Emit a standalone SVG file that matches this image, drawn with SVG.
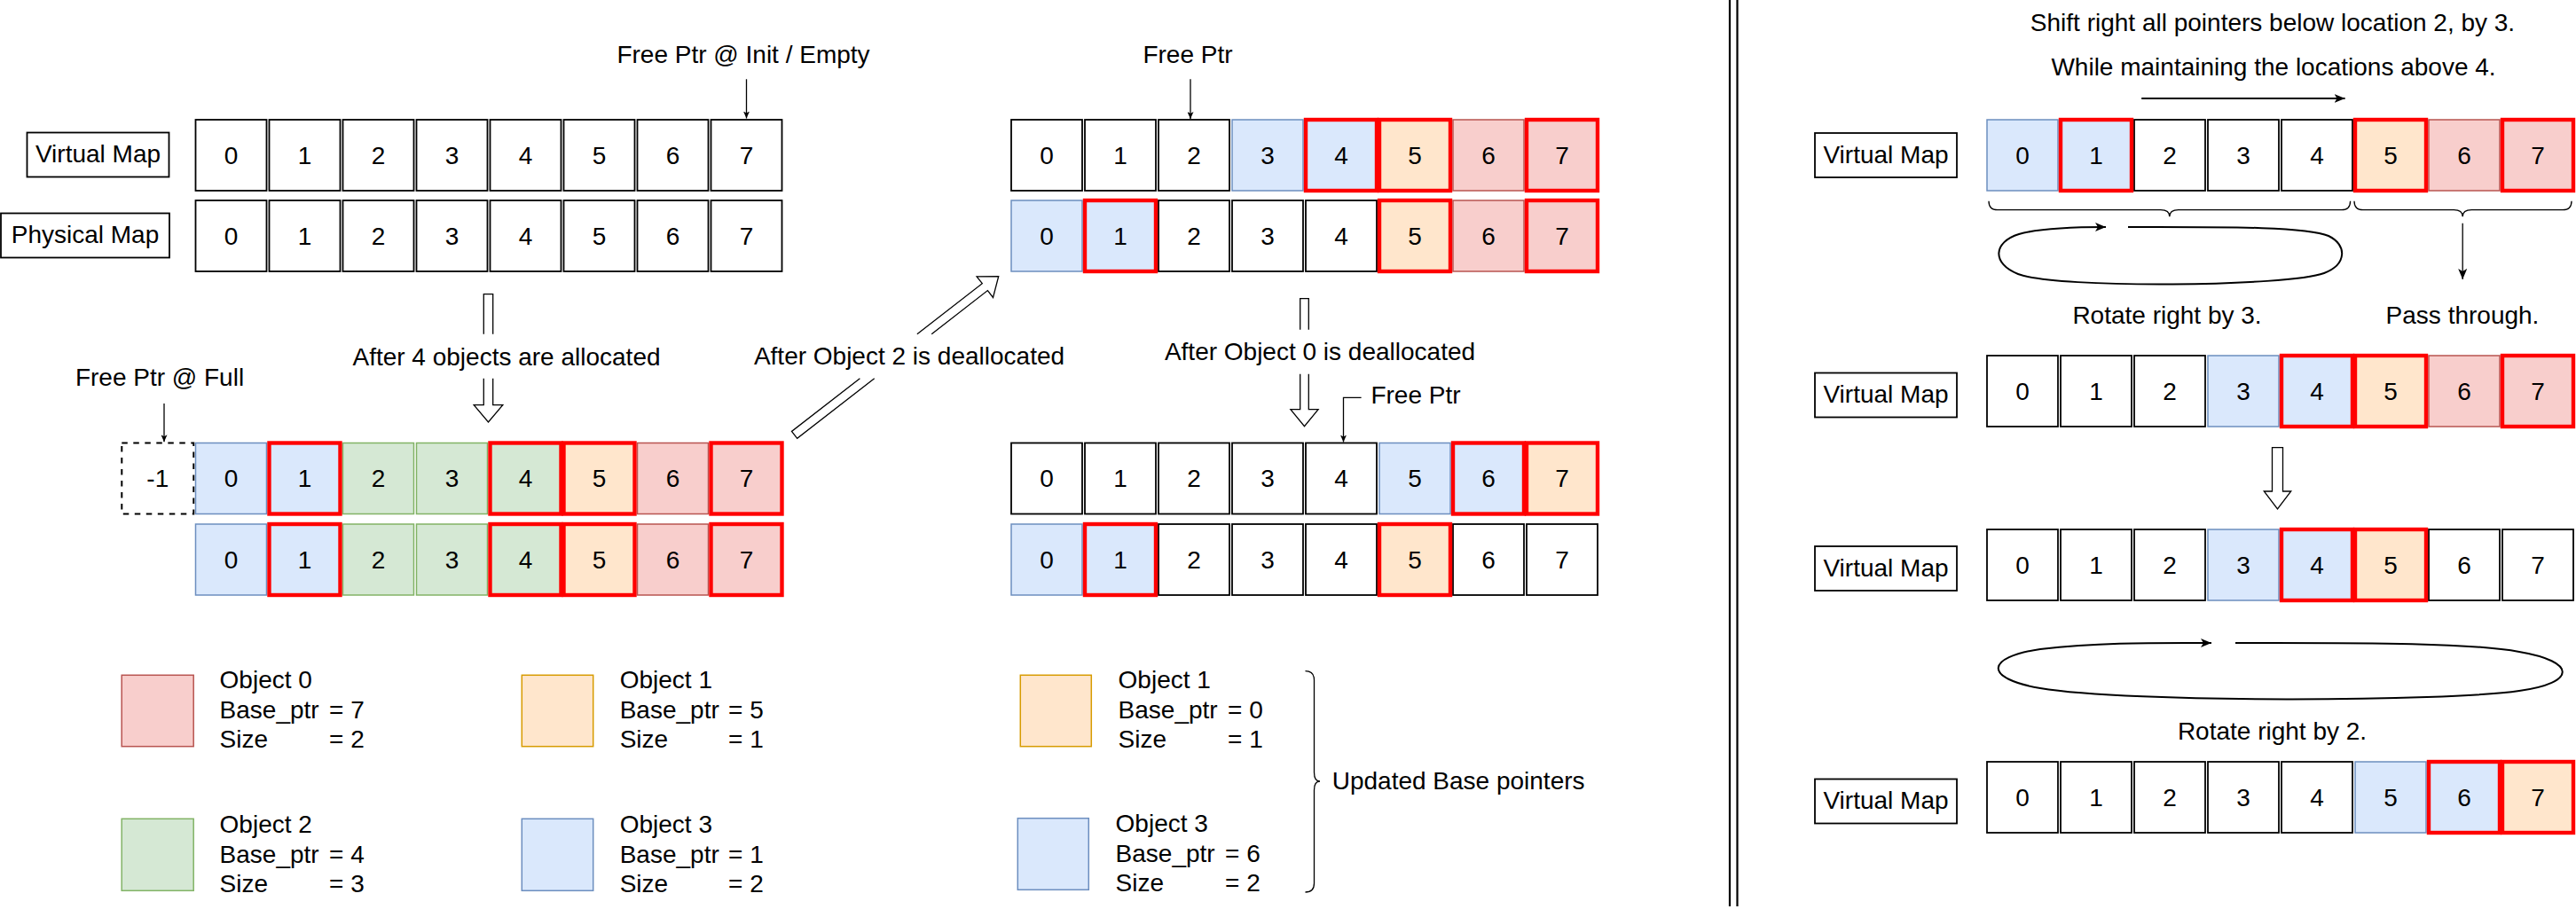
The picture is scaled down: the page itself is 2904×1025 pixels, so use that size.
<svg xmlns="http://www.w3.org/2000/svg" width="2904" height="1025" viewBox="0 0 2904 1025">
<style>
text { font-family: "Liberation Sans", Arial, sans-serif; font-size: 28px; fill: #000; }
.m { text-anchor: middle; }
.w { fill: #fff; stroke: #000; stroke-width: 1.8; }
.b { fill: #dae8fc; stroke: #6c8ebf; stroke-width: 1.5; }
.g { fill: #d5e8d4; stroke: #82b366; stroke-width: 1.5; }
.o { fill: #ffe6cc; stroke: #d79b00; stroke-width: 1.5; }
.r { fill: #f8cecc; stroke: #b85450; stroke-width: 1.5; }
.h { stroke: #ff0000; stroke-width: 4.4; }
.lbl { fill: #fff; stroke: #000; stroke-width: 1.8; }
.dash { fill: #fff; stroke: #000; stroke-width: 2; stroke-dasharray: 6.5 6.5; }
.hol { fill: #fff; stroke: #000; stroke-width: 1.3; stroke-linejoin: miter; }
.ln { fill: none; stroke: #000; stroke-width: 1.3; }
.ln2 { fill: none; stroke: #000; stroke-width: 2; }
.sep { stroke: #000; stroke-width: 2.2; }
</style>
<defs>
<marker id="as" viewBox="0 0 8 7" refX="8" refY="3.5" markerWidth="8" markerHeight="7" markerUnits="userSpaceOnUse" orient="auto"><path d="M0,0 L8,3.5 L0,7 L2,3.5 z" fill="#000"/></marker>
<marker id="al" viewBox="0 0 12 10" refX="12" refY="5" markerWidth="12" markerHeight="10" markerUnits="userSpaceOnUse" orient="auto"><path d="M0,0 L12,5 L0,10 L3,5 z" fill="#000"/></marker>
</defs>

<!-- separator double line -->
<line class="sep" x1="1950" y1="0" x2="1950" y2="1022"/>
<line class="sep" x1="1958.5" y1="0" x2="1958.5" y2="1022"/>

<!-- labels -->
<g id="lbl-vm-top"><rect class="lbl" x="30.5" y="149.5" width="160" height="50"/><text class="m" x="110.5" y="183">Virtual Map</text></g>
<g id="lbl-pm-top"><rect class="lbl" x="1" y="240.5" width="190" height="50"/><text class="m" x="96" y="274">Physical Map</text></g>
<g id="lbl-vm-r0"><rect class="lbl" x="2046" y="150" width="160" height="50"/><text class="m" x="2126" y="183.5">Virtual Map</text></g>
<g id="lbl-vm-r1"><rect class="lbl" x="2046" y="420.5" width="160" height="50"/><text class="m" x="2126" y="454">Virtual Map</text></g>
<g id="lbl-vm-r2"><rect class="lbl" x="2046" y="616" width="160" height="50"/><text class="m" x="2126" y="649.5">Virtual Map</text></g>
<g id="lbl-vm-r3"><rect class="lbl" x="2046" y="878.5" width="160" height="50"/><text class="m" x="2126" y="912">Virtual Map</text></g>

<!-- free pointer / step texts -->
<g id="txt-free-init"><text class="m" x="838" y="71">Free Ptr @ Init / Empty</text></g>
<g id="txt-free-mid-top"><text class="m" x="1339" y="71">Free Ptr</text></g>
<g id="txt-free-full"><text class="m" x="180" y="435">Free Ptr @ Full</text></g>
<g id="txt-free-mid"><text class="m" x="1596" y="455">Free Ptr</text></g>
<g id="txt-alloc"><text class="m" x="571" y="411.5">After 4 objects are allocated</text></g>
<g id="txt-dealloc2"><text class="m" x="1025" y="410.7">After Object 2 is deallocated</text></g>
<g id="txt-dealloc0"><text class="m" x="1488" y="406">After Object 0 is deallocated</text></g>
<g id="txt-shift"><text class="m" x="2562" y="35">Shift right all pointers below location 2, by 3.</text></g>
<g id="txt-maintain"><text class="m" x="2563" y="85">While maintaining the locations above 4.</text></g>
<g id="txt-rot3"><text class="m" x="2443" y="365">Rotate right by 3.</text></g>
<g id="txt-pass"><text class="m" x="2776" y="365">Pass through.</text></g>
<g id="txt-rot2"><text class="m" x="2561.5" y="834">Rotate right by 2.</text></g>

<!-- dashed -1 cell -->
<g id="cell-neg1"><rect class="dash" x="137.3" y="499.5" width="81" height="80"/><text class="m" x="177.8" y="549">-1</text></g>

<!-- V0 row (left top virtual) -->
<g id="v0-0"><rect class="w" x="220.5" y="135" width="80" height="80"/><text class="m" x="260.5" y="184.5">0</text></g>
<g id="v0-1"><rect class="w" x="303.5" y="135" width="80" height="80"/><text class="m" x="343.5" y="184.5">1</text></g>
<g id="v0-2"><rect class="w" x="386.5" y="135" width="80" height="80"/><text class="m" x="426.5" y="184.5">2</text></g>
<g id="v0-3"><rect class="w" x="469.5" y="135" width="80" height="80"/><text class="m" x="509.5" y="184.5">3</text></g>
<g id="v0-4"><rect class="w" x="552.5" y="135" width="80" height="80"/><text class="m" x="592.5" y="184.5">4</text></g>
<g id="v0-5"><rect class="w" x="635.5" y="135" width="80" height="80"/><text class="m" x="675.5" y="184.5">5</text></g>
<g id="v0-6"><rect class="w" x="718.5" y="135" width="80" height="80"/><text class="m" x="758.5" y="184.5">6</text></g>
<g id="v0-7"><rect class="w" x="801.5" y="135" width="80" height="80"/><text class="m" x="841.5" y="184.5">7</text></g>
<!-- P0 row -->
<g id="p0-0"><rect class="w" x="220.5" y="226" width="80" height="80"/><text class="m" x="260.5" y="275.5">0</text></g>
<g id="p0-1"><rect class="w" x="303.5" y="226" width="80" height="80"/><text class="m" x="343.5" y="275.5">1</text></g>
<g id="p0-2"><rect class="w" x="386.5" y="226" width="80" height="80"/><text class="m" x="426.5" y="275.5">2</text></g>
<g id="p0-3"><rect class="w" x="469.5" y="226" width="80" height="80"/><text class="m" x="509.5" y="275.5">3</text></g>
<g id="p0-4"><rect class="w" x="552.5" y="226" width="80" height="80"/><text class="m" x="592.5" y="275.5">4</text></g>
<g id="p0-5"><rect class="w" x="635.5" y="226" width="80" height="80"/><text class="m" x="675.5" y="275.5">5</text></g>
<g id="p0-6"><rect class="w" x="718.5" y="226" width="80" height="80"/><text class="m" x="758.5" y="275.5">6</text></g>
<g id="p0-7"><rect class="w" x="801.5" y="226" width="80" height="80"/><text class="m" x="841.5" y="275.5">7</text></g>
<!-- V1 row -->
<g id="v1-0"><rect class="b" x="220.5" y="499.5" width="80" height="80"/><text class="m" x="260.5" y="549">0</text></g>
<g id="v1-2"><rect class="g" x="386.5" y="499.5" width="80" height="80"/><text class="m" x="426.5" y="549">2</text></g>
<g id="v1-3"><rect class="g" x="469.5" y="499.5" width="80" height="80"/><text class="m" x="509.5" y="549">3</text></g>
<g id="v1-6"><rect class="r" x="718.5" y="499.5" width="80" height="80"/><text class="m" x="758.5" y="549">6</text></g>
<g id="v1-1"><rect class="b h" x="303.5" y="499.5" width="80" height="80"/><text class="m" x="343.5" y="549">1</text></g>
<g id="v1-4"><rect class="g h" x="552.5" y="499.5" width="80" height="80"/><text class="m" x="592.5" y="549">4</text></g>
<g id="v1-5"><rect class="o h" x="635.5" y="499.5" width="80" height="80"/><text class="m" x="675.5" y="549">5</text></g>
<g id="v1-7"><rect class="r h" x="801.5" y="499.5" width="80" height="80"/><text class="m" x="841.5" y="549">7</text></g>
<!-- P1 row -->
<g id="p1-0"><rect class="b" x="220.5" y="591" width="80" height="80"/><text class="m" x="260.5" y="640.5">0</text></g>
<g id="p1-2"><rect class="g" x="386.5" y="591" width="80" height="80"/><text class="m" x="426.5" y="640.5">2</text></g>
<g id="p1-3"><rect class="g" x="469.5" y="591" width="80" height="80"/><text class="m" x="509.5" y="640.5">3</text></g>
<g id="p1-6"><rect class="r" x="718.5" y="591" width="80" height="80"/><text class="m" x="758.5" y="640.5">6</text></g>
<g id="p1-1"><rect class="b h" x="303.5" y="591" width="80" height="80"/><text class="m" x="343.5" y="640.5">1</text></g>
<g id="p1-4"><rect class="g h" x="552.5" y="591" width="80" height="80"/><text class="m" x="592.5" y="640.5">4</text></g>
<g id="p1-5"><rect class="o h" x="635.5" y="591" width="80" height="80"/><text class="m" x="675.5" y="640.5">5</text></g>
<g id="p1-7"><rect class="r h" x="801.5" y="591" width="80" height="80"/><text class="m" x="841.5" y="640.5">7</text></g>
<!-- V2 row (middle top virtual) -->
<g id="v2-0"><rect class="w" x="1140" y="135" width="80" height="80"/><text class="m" x="1180" y="184.5">0</text></g>
<g id="v2-1"><rect class="w" x="1223" y="135" width="80" height="80"/><text class="m" x="1263" y="184.5">1</text></g>
<g id="v2-2"><rect class="w" x="1306" y="135" width="80" height="80"/><text class="m" x="1346" y="184.5">2</text></g>
<g id="v2-3"><rect class="b" x="1389" y="135" width="80" height="80"/><text class="m" x="1429" y="184.5">3</text></g>
<g id="v2-6"><rect class="r" x="1638" y="135" width="80" height="80"/><text class="m" x="1678" y="184.5">6</text></g>
<g id="v2-4"><rect class="b h" x="1472" y="135" width="80" height="80"/><text class="m" x="1512" y="184.5">4</text></g>
<g id="v2-5"><rect class="o h" x="1555" y="135" width="80" height="80"/><text class="m" x="1595" y="184.5">5</text></g>
<g id="v2-7"><rect class="r h" x="1721" y="135" width="80" height="80"/><text class="m" x="1761" y="184.5">7</text></g>
<!-- P2 row -->
<g id="p2-0"><rect class="b" x="1140" y="226" width="80" height="80"/><text class="m" x="1180" y="275.5">0</text></g>
<g id="p2-2"><rect class="w" x="1306" y="226" width="80" height="80"/><text class="m" x="1346" y="275.5">2</text></g>
<g id="p2-3"><rect class="w" x="1389" y="226" width="80" height="80"/><text class="m" x="1429" y="275.5">3</text></g>
<g id="p2-4"><rect class="w" x="1472" y="226" width="80" height="80"/><text class="m" x="1512" y="275.5">4</text></g>
<g id="p2-6"><rect class="r" x="1638" y="226" width="80" height="80"/><text class="m" x="1678" y="275.5">6</text></g>
<g id="p2-1"><rect class="b h" x="1223" y="226" width="80" height="80"/><text class="m" x="1263" y="275.5">1</text></g>
<g id="p2-5"><rect class="o h" x="1555" y="226" width="80" height="80"/><text class="m" x="1595" y="275.5">5</text></g>
<g id="p2-7"><rect class="r h" x="1721" y="226" width="80" height="80"/><text class="m" x="1761" y="275.5">7</text></g>
<!-- V3 row -->
<g id="v3-0"><rect class="w" x="1140" y="499.5" width="80" height="80"/><text class="m" x="1180" y="549">0</text></g>
<g id="v3-1"><rect class="w" x="1223" y="499.5" width="80" height="80"/><text class="m" x="1263" y="549">1</text></g>
<g id="v3-2"><rect class="w" x="1306" y="499.5" width="80" height="80"/><text class="m" x="1346" y="549">2</text></g>
<g id="v3-3"><rect class="w" x="1389" y="499.5" width="80" height="80"/><text class="m" x="1429" y="549">3</text></g>
<g id="v3-4"><rect class="w" x="1472" y="499.5" width="80" height="80"/><text class="m" x="1512" y="549">4</text></g>
<g id="v3-5"><rect class="b" x="1555" y="499.5" width="80" height="80"/><text class="m" x="1595" y="549">5</text></g>
<g id="v3-6"><rect class="b h" x="1638" y="499.5" width="80" height="80"/><text class="m" x="1678" y="549">6</text></g>
<g id="v3-7"><rect class="o h" x="1721" y="499.5" width="80" height="80"/><text class="m" x="1761" y="549">7</text></g>
<!-- P3 row -->
<g id="p3-0"><rect class="b" x="1140" y="591" width="80" height="80"/><text class="m" x="1180" y="640.5">0</text></g>
<g id="p3-2"><rect class="w" x="1306" y="591" width="80" height="80"/><text class="m" x="1346" y="640.5">2</text></g>
<g id="p3-3"><rect class="w" x="1389" y="591" width="80" height="80"/><text class="m" x="1429" y="640.5">3</text></g>
<g id="p3-4"><rect class="w" x="1472" y="591" width="80" height="80"/><text class="m" x="1512" y="640.5">4</text></g>
<g id="p3-6"><rect class="w" x="1638" y="591" width="80" height="80"/><text class="m" x="1678" y="640.5">6</text></g>
<g id="p3-7"><rect class="w" x="1721" y="591" width="80" height="80"/><text class="m" x="1761" y="640.5">7</text></g>
<g id="p3-1"><rect class="b h" x="1223" y="591" width="80" height="80"/><text class="m" x="1263" y="640.5">1</text></g>
<g id="p3-5"><rect class="o h" x="1555" y="591" width="80" height="80"/><text class="m" x="1595" y="640.5">5</text></g>
<!-- R0 row -->
<g id="r0-0"><rect class="b" x="2240" y="135" width="80" height="80"/><text class="m" x="2280" y="184.5">0</text></g>
<g id="r0-2"><rect class="w" x="2406" y="135" width="80" height="80"/><text class="m" x="2446" y="184.5">2</text></g>
<g id="r0-3"><rect class="w" x="2489" y="135" width="80" height="80"/><text class="m" x="2529" y="184.5">3</text></g>
<g id="r0-4"><rect class="w" x="2572" y="135" width="80" height="80"/><text class="m" x="2612" y="184.5">4</text></g>
<g id="r0-6"><rect class="r" x="2738" y="135" width="80" height="80"/><text class="m" x="2778" y="184.5">6</text></g>
<g id="r0-1"><rect class="b h" x="2323" y="135" width="80" height="80"/><text class="m" x="2363" y="184.5">1</text></g>
<g id="r0-5"><rect class="o h" x="2655" y="135" width="80" height="80"/><text class="m" x="2695" y="184.5">5</text></g>
<g id="r0-7"><rect class="r h" x="2821" y="135" width="80" height="80"/><text class="m" x="2861" y="184.5">7</text></g>
<!-- R1 row -->
<g id="r1-0"><rect class="w" x="2240" y="401" width="80" height="80"/><text class="m" x="2280" y="450.5">0</text></g>
<g id="r1-1"><rect class="w" x="2323" y="401" width="80" height="80"/><text class="m" x="2363" y="450.5">1</text></g>
<g id="r1-2"><rect class="w" x="2406" y="401" width="80" height="80"/><text class="m" x="2446" y="450.5">2</text></g>
<g id="r1-3"><rect class="b" x="2489" y="401" width="80" height="80"/><text class="m" x="2529" y="450.5">3</text></g>
<g id="r1-6"><rect class="r" x="2738" y="401" width="80" height="80"/><text class="m" x="2778" y="450.5">6</text></g>
<g id="r1-4"><rect class="b h" x="2572" y="401" width="80" height="80"/><text class="m" x="2612" y="450.5">4</text></g>
<g id="r1-5"><rect class="o h" x="2655" y="401" width="80" height="80"/><text class="m" x="2695" y="450.5">5</text></g>
<g id="r1-7"><rect class="r h" x="2821" y="401" width="80" height="80"/><text class="m" x="2861" y="450.5">7</text></g>
<!-- R2 row -->
<g id="r2-0"><rect class="w" x="2240" y="597" width="80" height="80"/><text class="m" x="2280" y="646.5">0</text></g>
<g id="r2-1"><rect class="w" x="2323" y="597" width="80" height="80"/><text class="m" x="2363" y="646.5">1</text></g>
<g id="r2-2"><rect class="w" x="2406" y="597" width="80" height="80"/><text class="m" x="2446" y="646.5">2</text></g>
<g id="r2-3"><rect class="b" x="2489" y="597" width="80" height="80"/><text class="m" x="2529" y="646.5">3</text></g>
<g id="r2-6"><rect class="w" x="2738" y="597" width="80" height="80"/><text class="m" x="2778" y="646.5">6</text></g>
<g id="r2-7"><rect class="w" x="2821" y="597" width="80" height="80"/><text class="m" x="2861" y="646.5">7</text></g>
<g id="r2-4"><rect class="b h" x="2572" y="597" width="80" height="80"/><text class="m" x="2612" y="646.5">4</text></g>
<g id="r2-5"><rect class="o h" x="2655" y="597" width="80" height="80"/><text class="m" x="2695" y="646.5">5</text></g>
<!-- R3 row -->
<g id="r3-0"><rect class="w" x="2240" y="859" width="80" height="80"/><text class="m" x="2280" y="908.5">0</text></g>
<g id="r3-1"><rect class="w" x="2323" y="859" width="80" height="80"/><text class="m" x="2363" y="908.5">1</text></g>
<g id="r3-2"><rect class="w" x="2406" y="859" width="80" height="80"/><text class="m" x="2446" y="908.5">2</text></g>
<g id="r3-3"><rect class="w" x="2489" y="859" width="80" height="80"/><text class="m" x="2529" y="908.5">3</text></g>
<g id="r3-4"><rect class="w" x="2572" y="859" width="80" height="80"/><text class="m" x="2612" y="908.5">4</text></g>
<g id="r3-5"><rect class="b" x="2655" y="859" width="80" height="80"/><text class="m" x="2695" y="908.5">5</text></g>
<g id="r3-6"><rect class="b h" x="2738" y="859" width="80" height="80"/><text class="m" x="2778" y="908.5">6</text></g>
<g id="r3-7"><rect class="o h" x="2821" y="859" width="80" height="80"/><text class="m" x="2861" y="908.5">7</text></g>

<!-- legend -->
<g id="leg-obj0"><rect class="r" x="137.2" y="761.3" width="81" height="80.4"/>
<text x="247.6" y="776">Object 0</text>
<text><tspan x="247.6" y="810">Base_ptr</tspan><tspan x="371" y="810">= 7</tspan></text>
<text><tspan x="247.6" y="843.3">Size</tspan><tspan x="371" y="843.3">= 2</tspan></text></g>
<g id="leg-obj1"><rect class="o" x="588.3" y="761.3" width="80.4" height="80.4"/>
<text x="698.7" y="776">Object 1</text>
<text><tspan x="698.7" y="810">Base_ptr</tspan><tspan x="821" y="810">= 5</tspan></text>
<text><tspan x="698.7" y="843.3">Size</tspan><tspan x="821" y="843.3">= 1</tspan></text></g>
<g id="leg-obj2"><rect class="g" x="137.2" y="923.3" width="81" height="81"/>
<text x="247.6" y="939.3">Object 2</text>
<text><tspan x="247.6" y="973.3">Base_ptr</tspan><tspan x="371" y="973.3">= 4</tspan></text>
<text><tspan x="247.6" y="1006">Size</tspan><tspan x="371" y="1006">= 3</tspan></text></g>
<g id="leg-obj3"><rect class="b" x="588.3" y="923.3" width="80.4" height="81"/>
<text x="698.7" y="939.3">Object 3</text>
<text><tspan x="698.7" y="973.3">Base_ptr</tspan><tspan x="821" y="973.3">= 1</tspan></text>
<text><tspan x="698.7" y="1006">Size</tspan><tspan x="821" y="1006">= 2</tspan></text></g>
<g id="leg-upd-obj1"><rect class="o" x="1150.3" y="761.3" width="80" height="80.4"/>
<text x="1260.6" y="776">Object 1</text>
<text><tspan x="1260.6" y="810">Base_ptr</tspan><tspan x="1384" y="810">= 0</tspan></text>
<text><tspan x="1260.6" y="843.3">Size</tspan><tspan x="1384" y="843.3">= 1</tspan></text></g>
<g id="leg-upd-obj3"><rect class="b" x="1147.3" y="922.7" width="80" height="80.6"/>
<text x="1257.6" y="938.3">Object 3</text>
<text><tspan x="1257.6" y="971.7">Base_ptr</tspan><tspan x="1381" y="971.7">= 6</tspan></text>
<text><tspan x="1257.6" y="1005">Size</tspan><tspan x="1381" y="1005">= 2</tspan></text></g>
<g id="txt-updated"><text x="1501.7" y="890">Updated Base pointers</text></g>

<!-- connectors -->
<g id="connectors">
<path class="ln" d="M841.5,89.3 L841.5,133.5" marker-end="url(#as)"/>
<path class="ln" d="M1342,89.3 L1342,134" marker-end="url(#as)"/>
<path class="ln" d="M185,455 L185,498.3" marker-end="url(#as)"/>
<path class="ln" d="M1534.6,448.3 L1514.5,448.3 L1514.5,498.5" marker-end="url(#as)"/>

<!-- hollow arrow: after 4 objects allocated -->
<polyline class="hol" points="545.3,376.7 545.3,331.7 555.7,331.7 555.7,376.7"/>
<polyline class="hol" points="545.3,426.7 545.3,456.7 534.2,456.7 550.5,476 566.8,456.7 555.7,456.7 555.7,426.7"/>
<!-- hollow arrow: after object 2 deallocated (diagonal) -->
<polyline class="hol" points="969.4,426.7 892.5,486.4 898.7,494.3 985.7,426.7"/>
<polyline class="hol" points="1033.9,376.7 1107.3,319.7 1101.1,311.8 1125.7,311.7 1119.5,335.5 1113.4,327.6 1050.2,376.7"/>
<!-- hollow arrow: after object 0 deallocated -->
<polyline class="hol" points="1465.7,371.7 1465.7,336.7 1475.3,336.7 1475.3,371.7"/>
<polyline class="hol" points="1465.7,421.7 1465.7,461.7 1454.9,461.7 1470.5,480.7 1486.1,461.7 1475.3,461.7 1475.3,421.7"/>
<!-- hollow arrow: right section -->
<polygon class="hol" points="2561.5,504.7 2573.5,504.7 2573.5,554 2582.7,554 2567.5,574 2552.3,554 2561.5,554"/>

<!-- shift arrow -->
<path class="ln2" d="M2414.2,111 L2643.6,111" marker-end="url(#al)"/>
<!-- braces -->
<path class="ln" d="M2242,226.7 Q2242,236.7 2252,236.7 L2435.8,236.7 Q2445.8,236.7 2445.8,244.3 Q2445.8,236.7 2455.8,236.7 L2639.6,236.7 Q2649.6,236.7 2649.6,226.7"/>
<path class="ln" d="M2654,226.7 Q2654,236.7 2664,236.7 L2766.2,236.7 Q2776.2,236.7 2776.2,244.3 Q2776.2,236.7 2786.2,236.7 L2889,236.7 Q2899,236.7 2899,226.7"/>
<path class="ln" d="M1471.5,756.7 Q1481.5,756.7 1481.5,766.7 L1481.5,871 Q1481.5,881 1488,881 Q1481.5,881 1481.5,891 L1481.5,996 Q1481.5,1006 1471.5,1006"/>
<!-- pass through arrow -->
<path class="ln" d="M2776.2,251.7 L2776.2,315" marker-end="url(#al)"/>
<!-- rotation loops -->
<path class="ln2" d="M2399,256 C2500,256 2600,255 2625,266 C2646,276 2646,298 2620,308 C2580,323 2320,326 2275,309 C2245,297 2247,273 2276,264 C2300,257 2340,256 2374,256" marker-end="url(#al)"/>
<path class="ln2" d="M2520,725 C2650,725 2780,724 2840,735 C2905,746 2905,770 2840,779 C2760,791 2400,793 2300,776 C2236,765 2238,741 2300,732 C2370,724 2430,725 2493,725" marker-end="url(#al)"/>
</g>
</svg>
